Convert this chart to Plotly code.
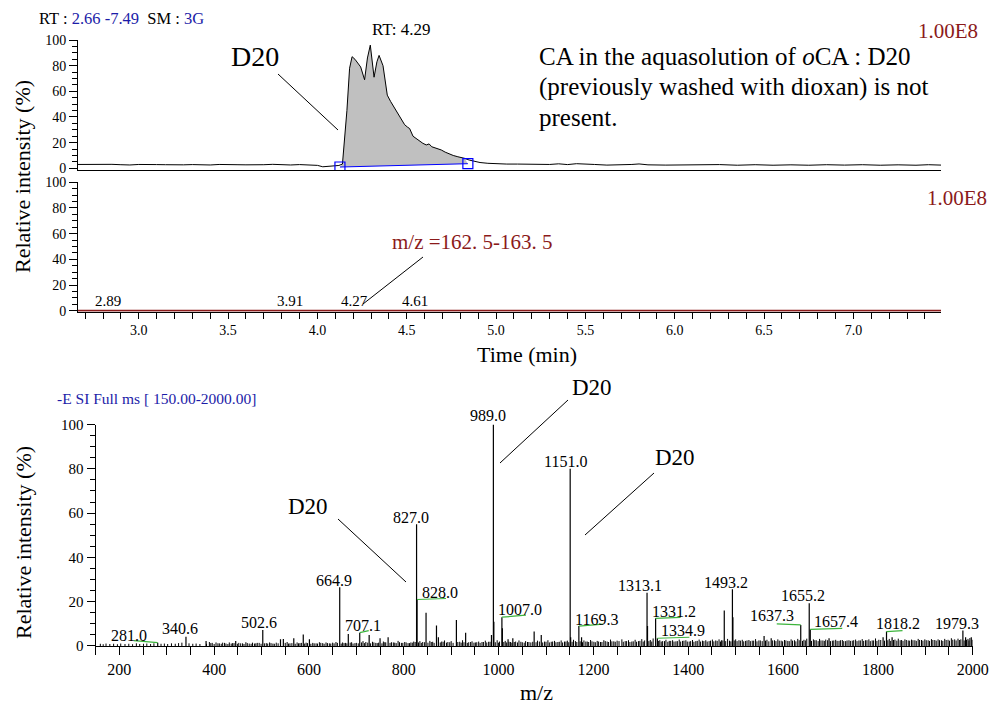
import plotly.graph_objects as go

W, H = 990, 704
SERIF = "Liberation Serif"
DARK_RED = "#8b1a1a"
TEXT_BLUE = "#1c1ca8"
GREEN = "#3cb43c"

# ---------------- total ion chromatogram (top panel) ----------------
tic_time = [2.66, 2.70, 2.75, 2.80, 2.85, 2.90, 2.95, 3.00, 3.05, 3.10, 3.15, 3.20,
            3.25, 3.30, 3.35, 3.40, 3.45, 3.50, 3.55, 3.60, 3.65, 3.70, 3.75, 3.80,
            3.85, 3.90, 3.95, 4.00, 4.03, 4.06, 4.09, 4.12, 4.14, 4.165, 4.18, 4.194,
            4.21, 4.225, 4.242, 4.264, 4.28, 4.296, 4.317, 4.333, 4.345, 4.367, 4.391,
            4.41, 4.423, 4.44, 4.46, 4.475, 4.488, 4.505, 4.516, 4.535, 4.555, 4.572,
            4.59, 4.609, 4.625, 4.64, 4.665, 4.693, 4.715, 4.739, 4.76, 4.786, 4.805,
            4.823, 4.85, 4.879, 4.91, 4.954, 5.00, 5.06, 5.12, 5.18, 5.25, 5.30, 5.35,
            5.40, 5.45, 5.50, 5.55, 5.62, 5.70, 5.76, 5.80, 5.85, 5.95, 6.05, 6.15,
            6.25, 6.35, 6.45, 6.55, 6.65, 6.75, 6.85, 6.95, 7.05, 7.15, 7.25, 7.35,
            7.42, 7.49]
tic_int = [3.0, 3.1, 3.0, 2.9, 3.1, 2.8, 2.6, 3.0, 3.2, 2.9, 2.8, 2.6,
           2.7, 2.9, 2.7, 2.6, 3.0, 2.7, 2.8, 2.7, 2.6, 2.8, 3.1, 2.7,
           2.6, 2.9, 2.7, 2.3, 1.2, 1.6, 2.1, 2.2, 3.3, 45, 78, 87,
           85, 82, 79, 69, 86, 96, 71, 83, 88, 80, 57,
           52, 49, 45, 40, 37, 34, 32, 31, 25, 23, 21,
           19.5, 18.2, 19.0, 16.8, 15.6, 14.3, 12.6, 11.0, 10.0, 9.0, 8.5,
           7.8, 6.4, 5.2, 4.5, 3.9, 3.5, 3.3, 3.3, 3.1, 3.1, 3.0, 3.5,
           2.9, 3.6, 3.1, 3.0, 2.5, 2.6, 3.0, 3.4, 2.7, 2.5, 2.6, 2.5,
           2.9, 2.4, 2.8, 2.4, 2.7, 2.4, 2.8, 2.5, 2.8, 2.4, 2.7, 2.4,
           2.8, 2.5]
peak_bounds_time = [4.126, 4.842]
peak_bounds_int = [1.0, 3.6]
apex_rt = 4.29
apex_int = 96

# ------------- extracted ion chromatogram m/z 162.5-163.5 -------------
xic_time = [2.66, 7.49]
xic_int = [0.0, 0.0]
xic_rt_labels = [2.89, 3.91, 4.27, 4.61]

# ---------------- mass spectrum (bottom panel) ----------------
peak_mz = [281.0, 340.6, 383.0, 445.5, 502.6, 540.0, 546.0, 568.0, 588.0, 601.0,
           664.9, 683.0, 707.1, 727.0, 750.0, 767.0, 827.0, 828.0, 847.0, 869.0,
           873.0, 911.0, 930.5, 985.0, 989.0, 990.0, 1007.0, 1008.0, 1020.0, 1030.0,
           1075.0, 1090.0, 1151.0, 1152.0, 1169.3, 1175.0, 1313.1, 1314.1, 1331.2,
           1334.9, 1476.0, 1493.2, 1494.2, 1560.0, 1575.0, 1637.3, 1655.2, 1657.4,
           1697.0, 1811.0, 1818.2, 1830.0, 1979.3, 1985.0, 1997.0]
peak_int = [1.5, 4.2, 2.3, 2.3, 7.2, 3.0, 3.1, 3.5, 5.2, 3.0,
            26.5, 5.4, 6.0, 5.0, 3.5, 4.0, 55.0, 21.0, 15.0, 9.2,
            4.0, 11.7, 6.0, 5.0, 100.0, 11.0, 13.0, 8.0, 3.0, 3.5,
            6.5, 5.0, 80.0, 4.0, 9.0, 4.0, 24.0, 9.0, 12.5,
            3.5, 16.0, 25.6, 13.0, 4.5, 3.5, 9.5, 19.3, 7.5,
            3.5, 4.0, 6.5, 4.0, 7.0, 4.0, 4.0]

# low-level background ions
noise_mz = [160, 166, 172, 180, 188, 196, 203, 212, 220, 228, 236, 243, 251, 258,
            266, 273, 288, 295, 302, 310, 318, 325, 332, 347, 355, 362, 370, 390,
            396, 404, 411, 418, 425, 432, 439, 452, 460, 467, 474, 481, 488, 495,
            510, 517, 524, 531, 554, 560, 575, 581, 594, 608, 615, 622, 629, 636,
            643, 650, 657, 671, 677, 690, 697, 714, 720, 734, 741, 757, 762, 774,
            781, 788, 795, 802, 809, 815, 821, 834, 840, 855, 861, 880, 886, 893,
            900, 918, 924, 937, 944, 951, 958, 965, 972, 979, 997, 1002, 1014, 1025,
            1036, 1043, 1050, 1057, 1064, 1082, 1097, 1104, 1111, 1118, 1125, 1132,
            1139, 1145, 1158, 1162, 1180, 1187, 1194, 1201, 1208, 1215, 1222, 1229,
            1236, 1243, 1250, 1260, 1267, 1274, 1281, 1288, 1295, 1302, 1308, 1320,
            1326, 1340, 1346, 1353, 1360, 1367, 1374, 1381, 1388, 1395, 1402, 1409,
            1416, 1423, 1430, 1437, 1444, 1451, 1458, 1465, 1470, 1483, 1500, 1507,
            1514, 1521, 1528, 1535, 1542, 1549, 1566, 1582, 1589, 1596, 1603, 1610,
            1617, 1624, 1631, 1644, 1650, 1664, 1670, 1677, 1684, 1690, 1704, 1711,
            1718, 1725, 1732, 1739, 1746, 1753, 1760, 1767, 1774, 1781, 1788, 1795,
            1802, 1824, 1836, 1843, 1850, 1857, 1864, 1871, 1878, 1885, 1892, 1899,
            1906, 1913, 1920, 1927, 1934, 1941, 1948, 1955, 1962, 1969, 1975, 1990,
            1994]
noise_int = [1.0, 0.8, 1.1, 0.9, 1.0, 0.8, 1.1, 0.9, 1.0, 0.8, 1.2, 0.9, 1.0, 1.1,
             0.9, 1.2, 1.0, 1.1, 0.9, 1.2, 1.0, 1.3, 1.5, 1.2, 1.0, 1.1, 0.9, 1.8,
             1.4, 1.6, 1.2, 1.5, 1.1, 1.6, 1.3, 1.4, 1.2, 1.7, 1.1, 1.5, 1.2, 1.4,
             1.3, 1.6, 1.1, 1.5, 1.8, 1.2, 1.6, 1.3, 1.5, 1.4, 1.2, 1.7, 1.3, 1.6,
             1.2, 1.5, 1.8, 1.6, 1.4, 1.7, 1.3, 2.2, 1.8, 1.9, 1.4, 2.0, 1.6, 1.7,
             1.5, 2.3, 1.4, 1.8, 1.3, 1.6, 2.0, 2.2, 1.8, 2.3, 1.9, 2.0, 2.5, 1.8,
             2.2, 1.9, 2.6, 1.7, 2.1, 1.6, 2.0, 1.8, 2.4, 1.9, 2.6, 2.0, 2.3, 1.8,
             2.0, 2.5, 1.7, 2.2, 1.8, 2.4, 2.0, 2.6, 1.9, 2.3, 1.8, 2.5,
             2.0, 2.4, 2.8, 2.2, 2.5, 2.0, 2.7, 1.9, 2.3, 1.8, 2.6, 2.0,
             2.9, 2.1, 2.4, 3.0, 2.2, 2.6, 2.0, 2.8, 2.2, 3.1, 2.5, 2.7,
             3.4, 2.6, 2.2, 2.8, 2.3, 2.6, 2.1, 2.9, 2.3, 2.6, 2.0, 2.7,
             2.2, 2.9, 2.4, 2.6, 2.2, 2.9, 2.5, 3.0, 2.6, 3.2, 3.0, 2.6,
             2.8, 2.3, 2.7, 2.4, 3.1, 2.5, 2.8, 2.6, 3.0, 2.4, 2.7, 2.3,
             3.0, 2.6, 3.2, 2.8, 3.3, 3.0, 2.6, 3.2, 2.5, 2.9, 2.4, 2.8,
             2.3, 2.7, 2.2, 2.6, 2.4, 2.9, 2.5, 3.1, 2.6, 3.0, 2.5, 3.4,
             2.8, 3.2, 2.9, 3.3, 2.7, 3.0, 2.5, 2.9, 2.6, 3.2, 2.7, 3.0,
             2.6, 3.1, 2.7, 3.0, 2.6, 3.2, 2.8, 3.5, 3.0, 3.3, 3.0, 3.2,
             3.6]
fill_mz = [384, 393, 400, 408, 415, 422, 429, 436, 442, 449, 456, 463, 470, 478,
           485, 491, 499, 506, 513, 520, 527, 535, 550, 557, 564, 571, 578, 584,
           591, 597, 604, 611, 618, 625, 632, 639, 646, 653, 660, 668, 674, 680,
           687, 693, 700, 704, 711, 717, 724, 730, 737, 744, 747, 754, 760, 771,
           778, 784, 791, 798, 805, 812, 818, 824, 831, 837, 844, 851, 858, 864,
           877, 883, 890, 897, 904, 914, 921, 927, 934, 941, 948, 954, 961, 968,
           975, 982, 993, 1000, 1011, 1017, 1022, 1028, 1033, 1040, 1047, 1054,
           1061, 1068, 1072, 1079, 1086, 1093, 1100, 1107, 1114, 1121, 1128, 1135,
           1142, 1148, 1155, 1165, 1172, 1177, 1184, 1190, 1197, 1204, 1211, 1218,
           1225, 1232, 1239, 1246, 1254, 1263, 1270, 1277, 1284, 1291, 1298, 1305,
           1317, 1323, 1337, 1343, 1350, 1357, 1363, 1370, 1377, 1384, 1391, 1398,
           1405, 1412, 1419, 1426, 1433, 1440, 1447, 1454, 1461, 1468, 1473, 1479,
           1487, 1490, 1497, 1503, 1510, 1517, 1524, 1531, 1538, 1545, 1552, 1556,
           1563, 1570, 1578, 1585, 1592, 1599, 1606, 1613, 1620, 1627, 1634, 1641,
           1647, 1660, 1667, 1674, 1680, 1687, 1694, 1700, 1707, 1714, 1721, 1728,
           1735, 1742, 1749, 1756, 1763, 1770, 1777, 1784, 1791, 1798, 1806, 1814,
           1821, 1827, 1833, 1840, 1847, 1853, 1860, 1867, 1874, 1881, 1888, 1895,
           1902, 1909, 1916, 1923, 1930, 1937, 1944, 1951, 1958, 1965, 1972, 1982,
           1987, 1992, 1999]
fill_int = [1.0, 1.3, 0.9, 1.2, 1.0, 1.4, 0.9, 1.1, 1.3, 1.0, 1.2, 0.9, 1.3, 1.0,
            1.1, 1.4, 1.0, 1.2, 1.1, 1.3, 1.0, 1.2, 1.4, 1.1, 1.3, 1.0, 1.2, 1.4,
            1.1, 1.3, 1.0, 1.2, 1.1, 1.4, 1.0, 1.3, 1.1, 1.2, 1.4, 1.1, 1.3, 1.2,
            1.5, 1.1, 1.4, 1.2, 1.6, 1.3, 1.5, 1.2, 1.6, 1.3, 1.5, 1.2, 1.7, 1.4,
            1.6, 1.3, 1.7, 1.4, 1.6, 1.3, 1.5, 1.8, 1.6, 1.4, 1.7, 1.5, 1.8, 1.4,
            1.6, 1.9, 1.5, 1.7, 1.4, 1.8, 1.5, 1.7, 1.4, 1.8, 1.5, 1.7, 1.4, 1.8,
            1.6, 1.9, 1.7, 1.5, 1.8, 1.6, 1.9, 1.5, 1.8, 1.6, 1.9, 1.5,
            1.8, 1.6, 1.9, 1.7, 2.0, 1.6, 1.9, 1.6, 2.0, 1.7, 1.9, 1.6,
            2.0, 1.7, 1.9, 1.8, 2.1, 1.7, 2.0, 1.8, 2.1, 1.7, 2.0, 1.8,
            2.2, 1.8, 2.1, 1.9, 2.2, 1.9, 2.2, 1.8, 2.1, 1.9, 2.3, 2.0,
            2.2, 2.0, 2.3, 2.0, 2.2, 1.9, 2.3, 2.0, 2.2, 2.0, 2.4, 2.0,
            2.2, 1.9, 2.3, 2.0, 2.2, 2.0, 2.4, 2.1, 2.3, 2.0, 2.5, 2.2,
            2.4, 2.1, 2.5, 2.2, 2.4, 2.1, 2.5, 2.2, 2.4, 2.1, 2.5, 2.2,
            2.4, 2.1, 2.5, 2.2, 2.4, 2.1, 2.5, 2.2, 2.4, 2.1, 2.6, 2.3,
            2.5, 2.3, 2.6, 2.2, 2.5, 2.3, 2.6, 2.2, 2.5, 2.3, 2.6, 2.2,
            2.5, 2.3, 2.6, 2.2, 2.5, 2.3, 2.6, 2.2, 2.5, 2.3, 2.7, 2.4,
            2.6, 2.3, 2.7, 2.4, 2.6, 2.3, 2.7, 2.4, 2.6, 2.3, 2.7, 2.4,
            2.6, 2.3, 2.7, 2.4, 2.6, 2.3, 2.7, 2.4, 2.8, 2.5, 2.7, 2.5,
            2.8, 2.5, 2.8]
labeled_mz = [281.0, 340.6, 502.6, 664.9, 707.1, 827.0, 828.0, 989.0, 1007.0, 1151.0,
              1169.3, 1313.1, 1331.2, 1334.9, 1493.2, 1637.3, 1655.2, 1657.4, 1818.2,
              1979.3]

# label placement in pixels relative to the peak top: (dx, dy, leader dx, leader dy)
LABEL_OFFSETS = {
    281.0: (-29, -7, -24, -2), 340.6: (-6, -8, None, None), 502.6: (-4, -8, None, None),
    664.9: (-6, -7, None, None), 707.1: (3, -7, 9, -2), 827.0: (-6, -7, None, None),
    828.0: (23, -7, 29, -1), 989.0: (-5, -9, None, None), 1007.0: (18, -8, 24, -2),
    1151.0: (-5, -7, None, None), 1169.3: (18, -7, 24, -2), 1313.1: (-7, -7, None, None),
    1331.2: (18, -7, 25, -1), 1334.9: (26, -8, 32, -1), 1493.2: (-6, -7, None, None),
    1637.3: (-29, -9, -24, -1), 1655.2: (-6, -8, None, None), 1657.4: (26, -8, 32, -1),
    1818.2: (11, -8, 16, -1), 1979.3: (-6, -7, None, None),
}


def px(x):
    return x / W


def py(y):
    return 1 - y / H


def stems(mz, inten):
    xs, ys = [], []
    for m, v in zip(mz, inten):
        xs += [m, m, None]
        ys += [0, v, None]
    return xs, ys


fig = go.Figure()

# shaded integrated peak area between the trace and its baseline
inside = [(t, v) for t, v in zip(tic_time, tic_int)
          if peak_bounds_time[0] < t < peak_bounds_time[1]]
fill_x = [peak_bounds_time[0]] + [t for t, _ in inside] + [peak_bounds_time[1]]
fill_y = [peak_bounds_int[0]] + [v for _, v in inside] + [peak_bounds_int[1]]
fig.add_trace(go.Scatter(x=fill_x, y=fill_y, fill="toself", fillcolor="#c0c0c0",
                         line=dict(width=0), mode="lines", xaxis="x", yaxis="y",
                         hoverinfo="skip"))
fig.add_trace(go.Scatter(x=tic_time, y=tic_int, mode="lines",
                         line=dict(color="black", width=1), xaxis="x", yaxis="y"))
fig.add_trace(go.Scatter(x=peak_bounds_time, y=peak_bounds_int, mode="lines+markers",
                         line=dict(color="#0000ff", width=1),
                         marker=dict(symbol="square-open", size=10,
                                     line=dict(color="#0000ff", width=1.2)),
                         xaxis="x", yaxis="y"))

# extracted ion trace
fig.add_trace(go.Scatter(x=xic_time, y=xic_int, mode="lines",
                         line=dict(color=DARK_RED, width=2), xaxis="x2", yaxis="y2"))

# spectrum sticks
for bx, by in ((noise_mz, noise_int), (fill_mz, fill_int)):
    nx, ny = stems(bx, by)
    fig.add_trace(go.Scatter(x=nx, y=ny, mode="lines", line=dict(color="black", width=1),
                             xaxis="x3", yaxis="y3"))
sx, sy = stems(peak_mz, peak_int)
fig.add_trace(go.Scatter(x=sx, y=sy, mode="lines", line=dict(color="black", width=1.2),
                         xaxis="x3", yaxis="y3"))

axis_common = dict(showgrid=False, zeroline=False, showline=True, linecolor="black",
                   linewidth=1, tickcolor="black", automargin=False)
yfont = dict(family=SERIF, size=14, color="black")

top_x_dom = [px(78), px(941)]
fig.update_layout(
    width=W, height=H, margin=dict(l=0, r=0, t=0, b=0),
    paper_bgcolor="white", plot_bgcolor="white", showlegend=False,
    template="none",
    xaxis=dict(domain=top_x_dom, range=[2.66, 7.49], anchor="y",
               showticklabels=False, ticks="", **axis_common),
    yaxis=dict(domain=[py(170), py(40)], range=[-1.32, 100], anchor="x",
               tickvals=[0, 20, 40, 60, 80, 100], ticks="outside", ticklen=8,
               minor=dict(dtick=5, tick0=0, ticks="outside", ticklen=5, tickcolor="black"),
               tickfont=yfont, **axis_common),
    xaxis2=dict(domain=top_x_dom, range=[2.66, 7.49], anchor="y2",
                dtick=0.5, tick0=0, tickformat=".1f", ticks="outside", ticklen=6,
                minor=dict(dtick=0.1, tick0=0, ticks="outside", ticklen=6, tickcolor="black"),
                layer="below traces", tickfont=dict(family=SERIF, size=14, color="black"),
                **axis_common),
    yaxis2=dict(domain=[py(311.5), py(182.3)], range=[-0.62, 100], anchor="x2",
                tickvals=[0, 20, 40, 60, 80, 100], ticks="outside", ticklen=8,
                minor=dict(dtick=5, tick0=0, ticks="outside", ticklen=5, tickcolor="black"),
                tickfont=yfont, **axis_common),
    xaxis3=dict(domain=[px(95.6), px(972.7)], range=[150, 2000], anchor="y3",
                dtick=200, tick0=0, ticks="outside", ticklen=8,
                minor=dict(dtick=50, tick0=0, ticks="outside", ticklen=8, tickcolor="black"),
                tickfont=dict(family=SERIF, size=16, color="black"), **axis_common),
    yaxis3=dict(domain=[py(646.3), py(424.5)], range=[-0.14, 100], anchor="x3",
                tickvals=[0, 20, 40, 60, 80, 100], ticks="outside", ticklen=8,
                minor=dict(dtick=5, tick0=0, ticks="outside", ticklen=5, tickcolor="black"),
                tickfont=dict(family=SERIF, size=15, color="black"), **axis_common),
)

ann = []
shapes = []


def text(x, y, s, size, color="black", xanchor="center", angle=0):
    ann.append(dict(x=px(x), y=py(y), xref="paper", yref="paper", text=s,
                    showarrow=False, xanchor=xanchor, yanchor="middle", textangle=angle,
                    font=dict(family=SERIF, size=size, color=color)))


def line(x0, y0, x1, y1, color="black", width=1):
    shapes.append(dict(type="line", xref="paper", yref="paper", x0=px(x0), y0=py(y0),
                       x1=px(x1), y1=py(y1), line=dict(color=color, width=width)))


# header texts
text(37, 19, f"RT : <span style='color:{TEXT_BLUE}'>2.66 -7.49</span>&nbsp; SM : "
             f"<span style='color:{TEXT_BLUE}'>3G</span>", 16.5, xanchor="left")
text(948, 31, "1.00E8", 21, DARK_RED)
text(957, 198, "1.00E8", 21, DARK_RED)
text(537, 57, "CA in the aquasolution of <i>o</i>CA : D20", 25, xanchor="left")
text(537, 87, "(previously washed with dioxan) is not", 25, xanchor="left")
text(537, 117, "present.", 25, xanchor="left")

# chromatogram annotations
text(255, 57, "D20", 28)
line(278, 74, 338, 130)
ann.append(dict(x=apex_rt, y=apex_int, xref="x", yref="y", text=f"RT: {apex_rt:.2f}",
                showarrow=False, xanchor="center", yanchor="middle", xshift=32, yshift=16,
                font=dict(family=SERIF, size=17, color="black")))
for rt in xic_rt_labels:
    ann.append(dict(x=rt, y=0, xref="x2", yref="y2", text=f"{rt:.2f}", showarrow=False,
                    xanchor="right", yanchor="middle", xshift=4, yshift=10,
                    font=dict(family=SERIF, size=15, color="black")))
text(390, 242, "m/z =162. 5-163. 5", 21, DARK_RED, xanchor="left")
line(423, 257, 363, 304)

# axis titles
text(22, 177, "Relative intensity (%)", 22, angle=-90)
text(23, 543, "Relative intensity (%)", 22, angle=-90)
text(527, 354, "Time (min)", 22)
text(536, 692, "m/z", 22)

# spectrum annotations
text(55, 398, "-E SI Full ms [ 150.00-2000.00]", 15.5, TEXT_BLUE, xanchor="left")
text(308, 506, "D20", 23)
line(338, 519, 406, 582)
text(592, 387, "D20", 23)
line(568, 400, 500, 463)
text(675, 457, "D20", 23)
line(654, 473, 585, 535)

intensity_of = dict(zip(peak_mz, peak_int))
for m in labeled_mz:
    v = intensity_of[m]
    dx, dy, gdx, gdy = LABEL_OFFSETS[m]
    ann.append(dict(x=m, y=v, xref="x3", yref="y3", text=f"{m:.1f}", showarrow=False,
                    xanchor="center", yanchor="middle", xshift=dx, yshift=-dy,
                    font=dict(family=SERIF, size=16, color="black")))
    if gdx is not None:
        shapes.append(dict(type="line", xref="x3", yref="y3", xsizemode="pixel",
                           ysizemode="pixel", xanchor=m, yanchor=v, x0=0, x1=gdx,
                           y0=0, y1=-gdy, line=dict(color=GREEN, width=1.2)))

fig.update_layout(annotations=ann, shapes=shapes)
fig.write_html("out.html")
